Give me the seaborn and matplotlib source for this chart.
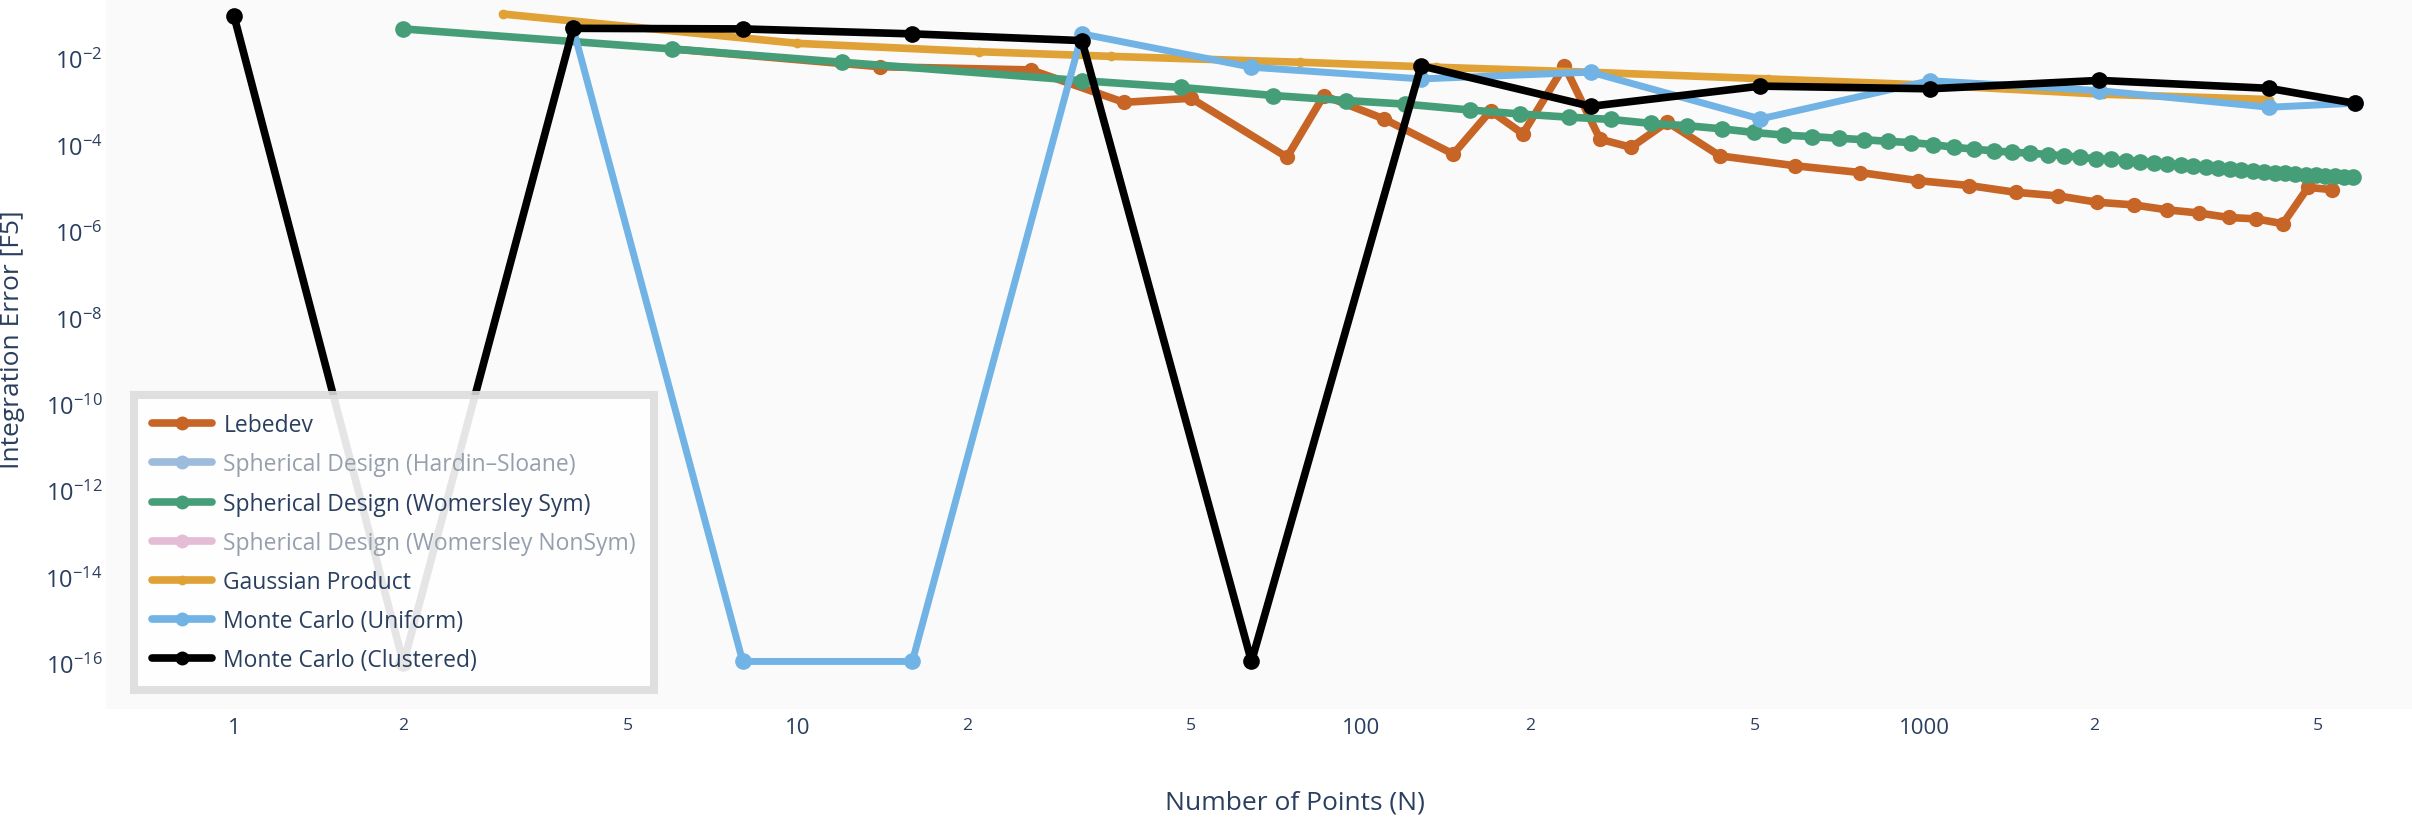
import matplotlib
matplotlib.use("Agg")
import matplotlib.pyplot as plt
import seaborn as sns
import pandas as pd
from matplotlib.lines import Line2D
from matplotlib.ticker import NullLocator

# ---------------- data ----------------
lebedev_n = [6, 14, 26, 38, 50, 74, 86, 110, 146, 170, 194, 230, 266, 302, 350, 434,
             590, 770, 974, 1202, 1454, 1730, 2030, 2354, 2702, 3074, 3470, 3890,
             4334, 4802, 5294]
lebedev_err = [1.69e-2, 6.55e-3, 5.53e-3, 9.8e-4, 1.22e-3, 5.26e-5, 1.41e-3, 4.05e-4,
               6.22e-5, 6.22e-4, 1.83e-4, 6.87e-3, 1.37e-4, 8.9e-5, 3.42e-4, 5.65e-5,
               3.33e-5, 2.32e-5, 1.51e-5, 1.16e-5, 8.09e-6, 6.67e-6, 4.76e-6, 4.13e-6,
               3.17e-6, 2.68e-6, 2.11e-6, 1.96e-6, 1.51e-6, 1.05e-5, 9.33e-6]

wsym_n = [2, 6, 12, 32, 48, 70, 94, 120, 156, 192, 234, 278, 328, 380, 438, 498, 564,
          632, 706, 782, 864, 948, 1038, 1130, 1228, 1328, 1434, 1542, 1656, 1772,
          1894, 2018, 2148, 2280, 2418, 2558, 2704, 2852, 3006, 3162, 3324, 3488,
          3658, 3830, 4008, 4188, 4374, 4562, 4756, 4952, 5154, 5358, 5568, 5780]
wsym_err = [4.92e-2, 1.69e-2, 8.32e-3, 3.11e-3, 2.17e-3, 1.41e-3, 1.08e-3, 8.93e-4,
            6.53e-4, 5.26e-4, 4.45e-4, 3.94e-4, 3.18e-4, 2.82e-4, 2.38e-4, 1.97e-4,
            1.71e-4, 1.58e-4, 1.44e-4, 1.34e-4, 1.22e-4, 1.15e-4, 1.03e-4, 8.91e-5,
            8.09e-5, 7.35e-5, 6.84e-5, 6.52e-5, 6.07e-5, 5.65e-5, 5.26e-5, 4.78e-5,
            4.66e-5, 4.34e-5, 4.13e-5, 3.85e-5, 3.66e-5, 3.49e-5, 3.25e-5, 3.10e-5,
            2.95e-5, 2.82e-5, 2.69e-5, 2.56e-5, 2.44e-5, 2.32e-5, 2.21e-5, 2.16e-5,
            2.06e-5, 2.01e-5, 1.96e-5, 1.92e-5, 1.87e-5, 1.79e-5]

gauss_n = [3, 10, 21, 36, 78, 136, 253, 528, 1081, 2080, 4095]
gauss_err = [1.09e-1, 2.28e-2, 1.46e-2, 1.14e-2, 8.32e-3, 6.38e-3, 4.91e-3, 3.42e-3,
             2.39e-3, 1.51e-3, 1.14e-3]

mcu_n = [4, 8, 16, 32, 64, 128, 256, 512, 1024, 2048, 4096, 5810]
mcu_err = [5.08e-2, 1.1e-16, 1.1e-16, 3.78e-2, 6.38e-3, 3.42e-3, 4.91e-3, 4.05e-4,
           3.11e-3, 1.83e-3, 7.55e-4, 9.35e-4]

mcc_n = [1, 2, 4, 8, 16, 32, 64, 128, 256, 512, 1024, 2048, 4096, 5810]
mcc_err = [1.0e-1, 1.0e-16, 5.08e-2, 4.92e-2, 3.78e-2, 2.64e-2, 1.1e-16, 6.87e-3,
           7.93e-4, 2.33e-3, 2.02e-3, 3.16e-3, 2.07e-3, 9.35e-4]

legend_names = ["Lebedev", "Spherical Design (Hardin\u2013Sloane)",
                "Spherical Design (Womersley Sym)", "Spherical Design (Womersley NonSym)",
                "Gaussian Product", "Monte Carlo (Uniform)", "Monte Carlo (Clustered)"]
legend_hidden = [False, True, False, True, False, False, False]

y_tick_exp = [-2, -4, -6, -8, -10, -12, -14, -16]
x_major = [1, 10, 100, 1000]
x_major_labels = ["1", "10", "100", "1000"]
x_minor = [2, 5, 20, 50, 200, 500, 2000, 5000]
x_minor_labels = ["2", "5", "2", "5", "2", "5", "2", "5"]

# ---------------- style ----------------
C_LEB = "#C76526"
C_HS = "#9DBCDD"
C_WS = "#469E78"
C_WN = "#E4BCD6"
C_GP = "#E0A236"
C_MCU = "#70B3E4"
C_MCC = "#000000"
TXT = "#2a3f5f"
HID = "#959fad"

sns.set_style("white")
plt.rcParams["font.family"] = ["Open Sans", "DejaVu Sans"]
plt.rcParams["mathtext.default"] = "regular"

W, H = 2412, 820
fig = plt.figure(figsize=(W / 100, H / 100), dpi=100)
fig.patch.set_facecolor("white")
L, B = 106, 710
ax = fig.add_axes([L / W, 1 - B / H, 1 - L / W, B / H])
ax.set_facecolor("#fafafa")

series = [
    (lebedev_n, lebedev_err, C_LEB, 5.5, 11),
    (wsym_n, wsym_err, C_WS, 5.5, 12),
    (gauss_n, gauss_err, C_GP, 5.5, 7),
    (mcu_n, mcu_err, C_MCU, 5.0, 12),
    (mcc_n, mcc_err, C_MCC, 5.5, 12),
]
for n, e, c, lw, ms in series:
    df = pd.DataFrame({"N": n, "err": e})
    sns.lineplot(data=df, x="N", y="err", ax=ax, color=c, linewidth=lw,
                 marker="o", markersize=ms, markeredgewidth=0,
                 estimator=None, sort=False, legend=False)

ax.set_xscale("log")
ax.set_yscale("log")
ax.set_xlim(10 ** -0.227, 10 ** 3.866)
ax.set_ylim(10 ** -17.06, 10 ** -0.615)

for s in ax.spines.values():
    s.set_visible(False)
ax.grid(False)

ax.set_xticks(x_major)
ax.set_xticklabels(x_major_labels)
ax.set_xticks(x_minor, minor=True)
ax.set_xticklabels(x_minor_labels, minor=True)
ax.tick_params(axis="x", which="major", length=0, pad=5.8, labelsize=16, labelcolor=TXT)
ax.tick_params(axis="x", which="minor", length=0, pad=5.8, labelsize=12.6, labelcolor=TXT)

ax.set_yticks([10.0 ** k for k in y_tick_exp])
ax.set_yticklabels([r"$10^{%d}$" % k for k in y_tick_exp])
ax.yaxis.set_minor_locator(NullLocator())
ax.tick_params(axis="y", which="major", length=0, pad=2.5, labelsize=17, labelcolor=TXT)

ax.set_xlabel("Number of Points (N)", fontsize=19, color=TXT, va="center")
ax.xaxis.set_label_coords((1295 - L) / (W - L), (B - 803) / B)
ax.set_ylabel("Integration Error [F5]", fontsize=19, color=TXT, va="center")
ax.yaxis.set_label_coords((13 - L) / (W - L), (B - 340) / B)

# ---------------- legend ----------------
leg_colors = [C_LEB, C_HS, C_WS, C_WN, C_GP, C_MCU, C_MCC]
leg_ms = [10, 10, 10, 10, 7, 10, 10]
handles = [Line2D([0], [0], color=c, lw=5.5, marker="o", markersize=m, markeredgewidth=0)
           for c, m in zip(leg_colors, leg_ms)]
leg = ax.legend(handles, legend_names, loc="upper left",
                bbox_to_anchor=(134 / W, 1 - 396 / H), bbox_transform=fig.transFigure,
                borderaxespad=0, frameon=True, fancybox=False, framealpha=0.9,
                facecolor="white", edgecolor="#dcdcdc", fontsize=16.5,
                labelspacing=0.66, handlelength=2.62, handletextpad=0.48,
                borderpad=0.8, numpoints=1)
leg.get_frame().set_linewidth(5.8)
for t, hid in zip(leg.get_texts(), legend_hidden):
    t.set_color(HID if hid else TXT)

fig.savefig("out.png", dpi=100, facecolor="white")
